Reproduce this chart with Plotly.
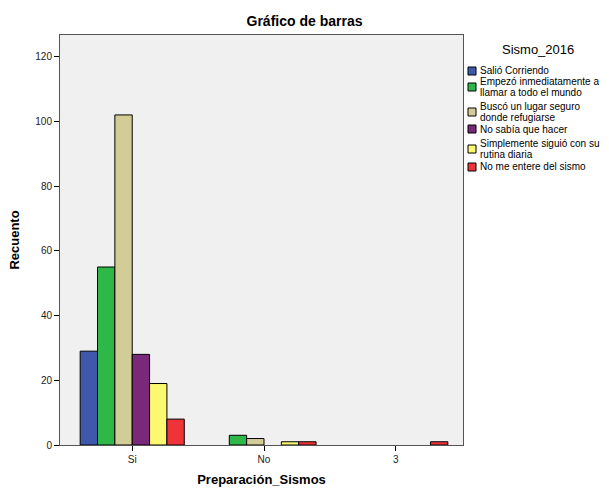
import plotly.graph_objects as go

categories = ["Si", "No", "3"]
series_names = [
    "Salió Corriendo",
    "Empezó inmediatamente a\nllamar a todo el mundo",
    "Buscó un lugar seguro\ndonde refugiarse",
    "No sabía que hacer",
    "Simplemente siguió con su\nrutina diaria",
    "No me entere del sismo",
]
series_values = [
    [29, 0, 0],
    [55, 3, 0],
    [102, 2, 0],
    [28, 0, 0],
    [19, 1, 0],
    [8, 1, 1],
]
colors = ["#3E58AC", "#2EB848", "#D2CC96", "#7A287A", "#FCF870", "#EF3338"]
y_ticks = [0, 20, 40, 60, 80, 100, 120]
legend_title = "Sismo_2016"

FONT = "Liberation Sans, Arial, sans-serif"
W, H = 609, 489
L, R, T, B = 60, 146, 35, 44
PW, PH = W - L - R, H - T - B


def px_x(p):
    return (p - L) / PW


def px_y(p):
    return (H - B - p) / PH


fig = go.Figure()
for name, vals, col in zip(series_names, series_values, colors):
    fig.add_trace(go.Bar(
        x=categories, y=[v if v else None for v in vals], name=name.replace("\n", " "),
        marker=dict(color=col, line=dict(color="#000000", width=1)),
        showlegend=False,
    ))

# legend drawn in the right margin
shapes, annotations = [], []
swatch_centers = [71, 87, 112, 129, 149, 167]
for name, col, cy in zip(series_names, colors, swatch_centers):
    shapes.append(dict(type="rect", xref="paper", yref="paper",
                       x0=px_x(468), x1=px_x(476), y0=px_y(cy + 4), y1=px_y(cy - 4),
                       fillcolor=col, line=dict(color="#000000", width=1), layer="above"))
    lines = name.split("\n")
    n = len(lines)
    for i, ln in enumerate(lines):
        ty = cy + (i - (n - 1) / 2) * 11
        annotations.append(dict(text=ln, xref="paper", yref="paper", x=px_x(477.5), y=px_y(ty),
                                xanchor="left", yanchor="middle", showarrow=False,
                                font=dict(size=10, family=FONT, color="#000000")))
annotations.append(dict(text=legend_title, xref="paper", yref="paper", x=px_x(538), y=px_y(49),
                        xanchor="center", yanchor="middle", showarrow=False,
                        font=dict(size=13, family=FONT, color="#000000")))

fig.update_layout(
    width=W, height=H,
    barmode="group", bargap=0.21, bargroupgap=0,
    paper_bgcolor="white", plot_bgcolor="#F0F0F0",
    margin=dict(l=L, r=R, t=T, b=B, autoexpand=False),
    font=dict(family=FONT, size=10, color="#000000"),
    title=dict(text="<b>Gráfico de barras</b>", x=0.5, xref="container", xanchor="center",
               y=1 - 21 / H, yref="container", yanchor="middle", font=dict(size=14, family=FONT)),
    showlegend=False,
    shapes=shapes,
    annotations=annotations,
)
fig.update_xaxes(
    type="category", range=[-0.548, 2.51],
    showline=True, linecolor="#555555", linewidth=1, mirror=True,
    ticks="outside", ticklen=5, tickcolor="#000000",
    showgrid=False, zeroline=False,
    title=dict(text="<b>Preparación_Sismos</b>", font=dict(size=13, family=FONT), standoff=10),
    tickfont=dict(size=10, family=FONT, color="#222222"),
)
fig.update_yaxes(
    range=[0, 126.7], tickvals=y_ticks,
    showline=True, linecolor="#555555", linewidth=1, mirror=True,
    ticks="outside", ticklen=5, tickcolor="#000000",
    showgrid=False, zeroline=False,
    title=dict(text="<b>Recuento</b>", font=dict(size=13, family=FONT), standoff=12),
    tickfont=dict(size=10, family=FONT, color="#222222"),
)
fig.write_html("out.html", config={"displayModeBar": False},
               post_script="document.body.style.margin='0';")
